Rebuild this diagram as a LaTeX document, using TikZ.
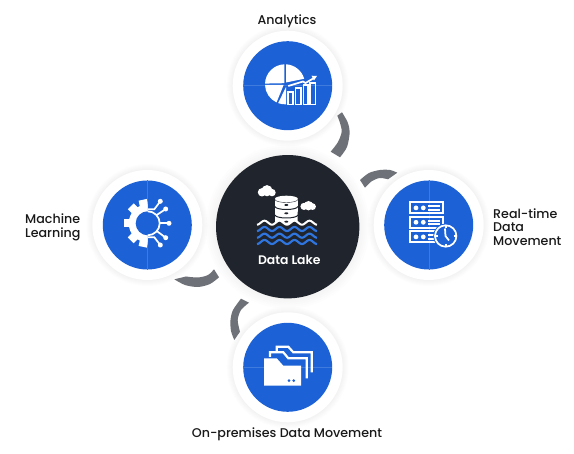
\documentclass[tikz,border=0pt]{standalone}
\usepackage{fontspec}
\setmainfont{Poppins}[UprightFont=* Medium, BoldFont=* SemiBold]
\usetikzlibrary{positioning, calc}
\definecolor{hubdark}{HTML}{20242C}
\definecolor{spokeblue}{HTML}{1C62D6}
\definecolor{seamblue}{HTML}{3F7BDD}
\definecolor{arcgray}{HTML}{6E7177}
\definecolor{waveblue}{HTML}{2F75E0}
\tikzset{
    halo/.style={circle, fill=white, minimum size=3.3cm, inner sep=0pt},
    spoke/.style={circle, fill=spokeblue, minimum size=2.67cm, inner sep=0pt},
    hub/.style={circle, fill=hubdark, minimum size=4.3cm, inner sep=0pt},
    caption/.style={font=\fontsize{10.8}{11.5}\selectfont, text=black!90, align=left, inner sep=0pt},
    link/.style={fill=arcgray},
    seam/.style={draw=seamblue, line width=0.012cm},
    iconline/.style={draw=white, line width=0.052cm},
    iconfill/.style={fill=white}
}
\begin{document}
\begin{tikzpicture}[x=0.03cm, y=-0.03cm]
    \useasboundingbox (0,0) rectangle (574,454);
    \fill[white] (0,0) rectangle (574,454);

    % Soft glow
    \foreach \cx/\cy in {287.7/85.7, 147.3/225, 428.7/225, 287.7/367.3} {
        \foreach \r in {56,57,58,59,60,61}
            \fill[black, opacity=0.007] (\cx,\cy) circle[radius=\r];
    }
    \foreach \r in {72,74,76,78,80,82}
        \fill[black, opacity=0.007] (287.7,226.7) circle[radius=\r];

    % Links
    \fill[link] plot[smooth] coordinates {(342,112.3) (347.5,122) (349.7,132) (347,147) (340,157.3)}
        -- plot[smooth] coordinates {(330.7,151.7) (338,142) (341.7,131.7) (340,123) (337.3,115.7)} -- cycle;
    \fill[link] plot[smooth] coordinates {(360,180) (369,173) (380,170) (390,170) (397.3,172.7)}
        -- plot[smooth] coordinates {(388,179.3) (380,178) (372,181) (365,187.7)} -- cycle;
    \fill[link] plot[smooth] coordinates {(174.3,279.3) (185,285) (198,287) (210,284) (219,277.3)}
        -- plot[smooth] coordinates {(214,269.3) (208,275) (198,277.5) (186,276.5)} -- cycle;
    \fill[link] plot[smooth] coordinates {(241,298.7) (233,310) (230.5,320) (231,331) (234.3,340)}
        -- plot[smooth] coordinates {(240,331.7) (237.7,320) (241,310) (249,302.7)} -- cycle;

    % Circles
    \node[halo] (analytics) at (287.7,85.7) {};
    \node[halo] (learning) at (147.3,225) {};
    \node[halo] (realtime) at (428.7,225) {};
    \node[halo] (onprem) at (287.7,367.3) {};
    \node[spoke] (analyticsdisc) at (analytics.center) {};
    \node[spoke] (learningdisc) at (learning.center) {};
    \node[spoke] (realtimedisc) at (realtime.center) {};
    \node[spoke] (onpremdisc) at (onprem.center) {};
    \node[hub] (lake) at (287.7,226.7) {};
    \draw[seam] (analyticsdisc.west) -- (analyticsdisc.east);
    \draw[seam] (onpremdisc.west) -- (onpremdisc.east);
    \draw[seam] (learningdisc.north) -- (learningdisc.south);
    \draw[seam] (realtimedisc.north) -- (realtimedisc.south);

    % Labels
    \node[caption, align=center] (analyticstext) at (287,21) {Analytics};
    \node[caption, anchor=west] (learningtext) at (25,227.5) {Machine\\Learning};
    \node[caption, anchor=west] (realtimetext) at (493,227) {Real-time\\Data\\Movement};
    \node[caption, align=center] (onpremtext) at (287,434.5) {On-premises Data Movement};
    \node[font=\fontsize{10.6}{12}\selectfont\bfseries, text=white, inner sep=0pt] (laketext) at (289.3,259.5) {Data Lake};

    % Pie chart
    \fill[iconfill] (284.3,83.2) -- (284.3,64.3) arc[start angle=-92, end angle=-178, radius=20] -- cycle;
    \fill[iconfill] (283.6,85) -- (265,85) arc[start angle=-182, end angle=-245, radius=20] -- cycle;
    \fill[iconfill] (286,87) -- (278.2,103.1) arc[start angle=-250, end angle=-270, radius=20] -- (286,104.3) -- cycle;
    \fill[iconfill] (286,82.5) -- (286,64.3) arc[start angle=-87, end angle=-16, radius=20] -- cycle;
    \draw[iconline] (288.3,86) -- (303,81.5) -- (305.5,83) -- (314,78);
    \fill[iconfill] (317,76) -- (311.5,75.7) -- (314,80.5) -- cycle;
    \foreach \bx/\bw/\by in {287.8/5.5/91.7, 295.5/5.5/88.3, 303.5/4.8/85, 310.3/5.2/83.3}
        \draw[iconline] (\bx,\by) rectangle (\bx+\bw,104.5);

    % Gear
    \begin{scope}
        \clip (100,190) rectangle (147.7,260);
        \fill[iconfill] (147.7,223.3) circle[radius=19];
        \foreach \a in {102,135,180,225,258}
            \draw[white, line width=0.25cm] (147.7,223.3) -- ++(\a:24);
    \end{scope}
    \fill[spokeblue] (147.7,223.3) circle[radius=12];
    \draw[iconline] (147.7,211.3) arc[start angle=-90, end angle=90, radius=12];
    \draw[iconline] (148,209.3) -- (154.3,209.3) -- (160.3,201.3);
    \draw[iconline] (156.7,215) -- (165.7,209);
    \draw[iconline] (159.7,223.3) -- (169,223.3);
    \draw[iconline] (156.7,231) -- (165.7,237.7);
    \draw[iconline] (148,237.3) -- (154.3,237.3) -- (160.3,245);
    \foreach \dx/\dy in {160.3/201.3, 165.7/209, 169/223.3, 165.7/237.7, 160.3/245}
        \fill[iconfill] (\dx,\dy) circle[radius=2.5];

    % Server racks
    \foreach \ry in {202.3, 216.7, 231.3} {
        \draw[iconline] (410.3,\ry) rectangle (443,\ry+11);
        \fill[iconfill] (416,\ry+5.6) circle[radius=2.4];
        \fill[iconfill] (423.3,\ry+5.6) circle[radius=2.4];
        \draw[iconline] (428.3,\ry+4) -- (440,\ry+4);
        \draw[iconline] (428.3,\ry+7.5) -- (440,\ry+7.5);
    }
    \fill[spokeblue] (445.7,236) circle[radius=12.5];
    \draw[iconline] (445.7,236) circle[radius=10.7];
    \draw[iconline] (445,228.5) -- (445.5,236) -- (449,240.5);
    \foreach \a in {0,90,180,270}
        \draw[iconline] (445.7,236) ++(\a:8) -- ++(\a:2);

    % Folders
    \fill[iconfill] (264,358.3) -- (276.7,358.3) -- (283.3,365.7) -- (301,365.7) -- (301,385.7) -- (264,385.7) -- cycle;
    \draw[iconline, line width=0.065cm] (270,357) -- (270,352.3) -- (283.3,352.3) -- (288.3,358.3) -- (306.7,358.3) -- (306.7,378.3);
    \draw[iconline, line width=0.065cm] (276.7,351) -- (276.7,346.7) -- (288.3,346.7) -- (293.3,352.3) -- (311.7,352.3) -- (311.7,372.3);
    \fill[spokeblue] (289,380.7) circle[radius=1.5];
    \fill[spokeblue] (293.7,380.7) circle[radius=1.5];

    % Lake
    \fill[iconfill] (262,192.3) circle[radius=4.2] (267,190.7) circle[radius=5.6] (272,192.6) circle[radius=3.7];
    \fill[iconfill] (304,206.4) circle[radius=3.6] (308.5,205.7) circle[radius=4.7] (312.5,206.6) circle[radius=3.4];
    \fill[iconfill] (275,198.7) arc[start angle=180, end angle=360, x radius=11.4, y radius=3] -- (297.7,224) -- (275,224) -- cycle;
    \foreach \sy/\sw in {199.5/0.012cm, 206.5/0.03cm, 215/0.03cm}
        \draw[hubdark, line width=\sw] (275,\sy) arc[start angle=180, end angle=0, x radius=11.4, y radius=3];
    \foreach \dy in {205, 213.3, 221.7}
        \fill[hubdark] (286.3,\dy) ellipse[x radius=2, y radius=1];
    \draw[hubdark, line width=0.16cm] plot[domain=257:317, samples=81] (\x,{225.5+2*cos(24*(\x-257))});
    \draw[iconline, line width=0.06cm] plot[domain=257:317, samples=81] (\x,{222.7+2*cos(24*(\x-257))});
    \foreach \wy in {229, 235.7, 242}
        \draw[waveblue, line width=0.065cm] plot[domain=257:317, samples=81] (\x,{\wy+2*cos(24*(\x-257))});
\end{tikzpicture}
\end{document}
